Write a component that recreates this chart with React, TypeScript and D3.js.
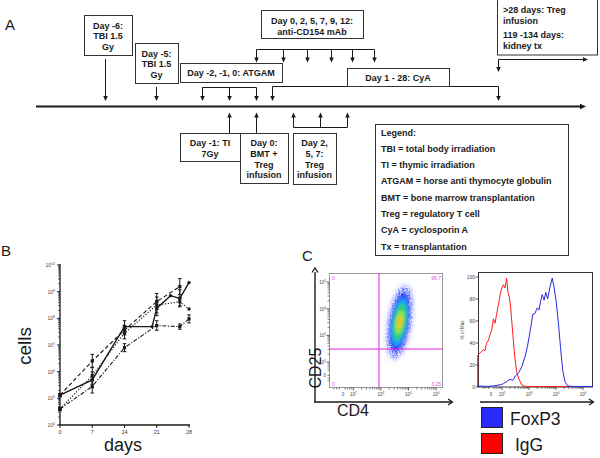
import React from 'react';
import * as d3 from 'd3';

const FONT = '"Liberation Sans", Arial, Helvetica, sans-serif';

// ---------- Panel B data (log10 cells) ----------
const bTicksDays = [0, 7, 14, 21, 28];
const bTicksExp = [4, 5, 6, 7, 8, 9, 10];
const solidDays = [0, 7, 14, 20, 21, 24, 26, 28];
const solidLog = [5.12, 5.69, 7.69, 7.69, 8.38, 8.85, 8.75, 9.34];
const solidErr = [0.06, 0.3, 0.22, 0, 0.28, 0, 0.32, 0];
const dashedDays = [0, 7, 14, 21, 26];
const dashedLog = [5.12, 6.4, 7.56, 8.63, 9.19];
const dashedErr = [0.06, 0.25, 0.18, 0.3, 0.3];
const dottedDays = [0, 7, 14, 21, 26, 28];
const dottedLog = [4.6, 5.85, 7.45, 8.5, 8.62, 8.35];
const dottedErr = [0.06, 0.32, 0.22, 0.3, 0.15, 0];
const dashdotDays = [0, 7, 14, 21, 26, 28];
const dashdotLog = [4.6, 5.45, 6.9, 7.73, 7.69, 7.98];
const dashdotErr = [0.06, 0.25, 0.15, 0.18, 0.1, 0.15];

// ---------- Panel C: histogram (x in decades, y in % of max) ----------
const igGx = [1.1, 1.1, 1.19, 1.31, 1.37, 1.43, 1.49, 1.56, 1.62, 1.68, 1.74, 1.8, 1.86, 1.93, 1.99, 2.05, 2.11, 2.17, 2.22, 2.27, 2.32, 2.4, 2.47, 2.54, 2.63, 2.73, 2.85, 3.5, 4.6];
const igGy = [0, 29, 31, 34, 33, 40, 42, 48, 52, 62, 58, 66, 74, 84, 90, 93, 90, 99, 86, 82, 72, 48, 28, 14, 7, 2, 0.5, 0.4, 0.4];
const foxX = [1.1, 1.43, 1.68, 1.93, 2.05, 2.17, 2.3, 2.4, 2.49, 2.62, 2.74, 2.87, 2.95, 3.05, 3.14, 3.22, 3.31, 3.37, 3.43, 3.49, 3.56, 3.62, 3.69, 3.77, 3.86, 3.92, 4.01, 4.1, 4.17, 4.25, 4.33, 4.43, 4.58, 5.37];
const foxY = [1, 0.5, 1, 2, 3, 5, 7, 6, 10, 13, 19, 29, 38, 52, 66, 67, 72, 70, 78, 84, 79, 86, 80, 90, 99, 92, 77, 55, 35, 15, 5, 1, 0.5, 0.5];
const histYTicks = [0, 20, 40, 60, 80, 100];
const flowTickPos = [2, 3, 4, 5];

// ---------- Panel C: dot plot density contours (decade units) ----------
const cloudColors = ['#3a4cff', '#1f35f0', '#18b0ff', '#2ad27a', '#a6e234', '#f4d018', '#ff9010'];
const cloudRx = [0.42, 0.33, 0.28, 0.23, 0.15, 0.08, 0.035];
const cloudRy = [1.4, 1.1, 0.9, 0.72, 0.45, 0.24, 0.1];
const cloudOpacity = [0.35, 0.85, 0.9, 0.92, 0.92, 0.92, 0.92];
const quadLabels = ['0', '96.7', '0', '3.25'];

// ---------- Panel A text ----------
const legendLines = [
  'Legend:',
  'TBI = total body irradiation',
  'TI = thymic irradiation',
  'ATGAM = horse anti thymocyte globulin',
  'BMT = bone marrow transplantation',
  'Treg = regulatory T cell',
  'CyA = cyclosporin A',
  'Tx = transplantation',
];

const INK = '#1a1a1a';

function Head({ x, y, dir, s = 1 }: { x: number; y: number; dir: string; s?: number }) {
  const w = 2.3 * s, h = 5 * s;
  let pts = '';
  if (dir === 'down') pts = `${x - w},${y - h} ${x + w},${y - h} ${x},${y}`;
  if (dir === 'up') pts = `${x - w},${y + h} ${x + w},${y + h} ${x},${y}`;
  if (dir === 'right') pts = `${x - h},${y - w} ${x - h},${y + w} ${x},${y}`;
  return <polygon points={pts} fill={INK} />;
}

function VArrow({ x, y1, y2 }: { x: number; y1: number; y2: number }) {
  const dir = y2 > y1 ? 'down' : 'up';
  return (
    <g>
      <line x1={x} x2={x} y1={y1} y2={dir === 'down' ? y2 - 4 : y2 + 4} stroke={INK} strokeWidth={1} />
      <Head x={x} y={y2} dir={dir} />
    </g>
  );
}

function Box({ x, y, w, h, lines, y0, dy, align = 'middle', tx }: any) {
  return (
    <g>
      <rect x={x + 0.5} y={y + 0.5} width={w} height={h} fill="#fff" stroke="#333" strokeWidth={1} />
      {lines.map((t: string, i: number) => (
        <text key={i} x={tx ?? x + w / 2} y={y0 + i * dy} textAnchor={align} fontFamily={FONT} fontWeight="bold" fontSize={9} fill={INK}>
          {t}
        </text>
      ))}
    </g>
  );
}

function Pow({ x, y, e, anchor = 'end', size = 5 }: any) {
  return (
    <text x={x} y={y} textAnchor={anchor} fontFamily={FONT} fontSize={size} fill="#444">
      10<tspan dy={-2} fontSize={size * 0.7}>{e}</tspan>
    </text>
  );
}

function PanelA() {
  const brLine = (x1: number, x2: number, y: number) => (
    <line x1={x1} x2={x2} y1={y} y2={y} stroke={INK} strokeWidth={1} />
  );
  return (
    <g>
      <text x={5} y={30} fontFamily={FONT} fontSize={15} fill={INK}>A</text>
      {/* timeline */}
      <line x1={36} x2={580} y1={106.5} y2={106.5} stroke={INK} strokeWidth={2} />
      <Head x={586} y={106.5} dir="right" s={1.2} />

      {/* TBI boxes */}
      <Box x={84} y={15} w={48} h={40} lines={['Day -6:', 'TBI 1.5', 'Gy']} y0={28.5} dy={10.5} />
      <VArrow x={105.5} y1={59} y2={101} />
      <Box x={135} y={43} w={43} h={40} lines={['Day -5:', 'TBI 1.5', 'Gy']} y0={56.5} dy={10.5} />
      <VArrow x={156.5} y1={87} y2={101} />

      {/* anti-CD154 */}
      <Box x={261} y={10} w={102} h={28} lines={['Day 0, 2, 5, 7, 9, 12:', 'anti-CD154 mAb']} y0={23.5} dy={11} />
      {brLine(256.5, 374.5, 49.5)}
      {[256.5, 283.5, 307.5, 331.5, 352.5, 374.5].map((x) => (
        <VArrow key={x} x={x} y1={49.5} y2={62.5} />
      ))}

      {/* ATGAM */}
      <Box x={180} y={63} w={102} h={19} lines={['Day -2, -1, 0: ATGAM']} y0={76.3} dy={0} />
      {brLine(202.5, 256.5, 87.5)}
      {[202.5, 229.5, 256.5].map((x) => (
        <VArrow key={x} x={x} y1={87.5} y2={101} />
      ))}

      {/* CyA */}
      {brLine(272.5, 498.5, 86.5)}
      <VArrow x={272.5} y1={86.5} y2={101} />
      <VArrow x={498.5} y1={86.5} y2={101} />
      <Box x={347} y={68} w={102} h={18} lines={['Day 1 - 28: CyA']} y0={80.8} dy={0} />

      {/* >28 days */}
      <rect x={497.5} y={-1} width={100} height={56} fill="#fff" stroke="#333" strokeWidth={1} />
      {['>28 days: Treg', 'infusion', '119 -134 days:', 'kidney tx'].map((t, i) => (
        <text key={t} x={503} y={[13.3, 23.8, 38.3, 48.8][i]} fontFamily={FONT} fontWeight="bold" fontSize={9} fill={INK}>{t}</text>
      ))}
      {brLine(498.5, 583, 59.5)}
      <Head x={588} y={59.5} dir="right" />
      <VArrow x={498.5} y1={59.5} y2={72} />

      {/* below timeline */}
      <VArrow x={229.5} y1={133} y2={112.5} />
      <VArrow x={256.5} y1={133} y2={112.5} />
      <Box x={180} y={133} w={60} h={28} lines={['Day -1: TI', '7Gy']} y0={146.3} dy={10.5} />
      <Box x={240} y={133} w={48} h={50} lines={['Day 0:', 'BMT +', 'Treg', 'infusion']} y0={146.3} dy={10.7} />
      {brLine(293.5, 347.5, 127.5)}
      {[293.5, 320.5, 347.5].map((x) => (
        <VArrow key={x} x={x} y1={127.5} y2={112.5} />
      ))}
      <Box x={293} y={133} w={43} h={51} lines={['Day 2,', '5, 7:', 'Treg', 'infusion']} y0={146.3} dy={10.7} />

      {/* legend */}
      <rect x={375.5} y={124.5} width={193} height={131} fill="#fff" stroke="#333" strokeWidth={1} />
      {legendLines.map((t, i) => (
        <text key={t} x={381} y={135.5 + i * 16.3} fontFamily={FONT} fontWeight="bold" fontSize={9} fill={INK}>{t}</text>
      ))}
    </g>
  );
}

function PanelB() {
  const x = d3.scaleLinear().domain([0, 28]).range([60, 189]);
  const y = d3.scaleLog().domain([1e4, 1e10]).range([425, 265]);
  const series = [
    { d: solidDays, v: solidLog, e: solidErr, dash: '', w: 1.4 },
    { d: dashedDays, v: dashedLog, e: dashedErr, dash: '4,2.5', w: 1.1 },
    { d: dottedDays, v: dottedLog, e: dottedErr, dash: '1.3,1.6', w: 1.1 },
    { d: dashdotDays, v: dashdotLog, e: dashdotErr, dash: '4,1.6,1.2,1.6', w: 1.1 },
  ];
  const line = d3.line<[number, number]>().x((p) => x(p[0])).y((p) => y(Math.pow(10, p[1])));
  const minor: number[] = [];
  for (let d = 4; d < 10; d++) for (let k = 2; k <= 9; k++) minor.push(k * Math.pow(10, d));
  return (
    <g>
      <text x={1} y={256} fontFamily={FONT} fontSize={15} fill={INK}>B</text>
      {/* axes */}
      <line x1={60} x2={60} y1={264} y2={425.5} stroke={INK} strokeWidth={1.3} />
      <line x1={59.5} x2={190} y1={425} y2={425} stroke={INK} strokeWidth={1.3} />
      {minor.map((m) => (
        <line key={m} x1={58} x2={60} y1={y(m)} y2={y(m)} stroke={INK} strokeWidth={0.7} />
      ))}
      {bTicksExp.map((e) => (
        <g key={e}>
          <line x1={57} x2={60} y1={y(Math.pow(10, e))} y2={y(Math.pow(10, e))} stroke={INK} strokeWidth={1} />
          <Pow x={55} y={y(Math.pow(10, e)) + 2} e={e} />
        </g>
      ))}
      {bTicksDays.map((d) => (
        <g key={d}>
          <line x1={x(d)} x2={x(d)} y1={425} y2={428} stroke={INK} strokeWidth={1} />
          <text x={x(d)} y={433.5} textAnchor="middle" fontFamily={FONT} fontSize={5.5} fill="#333">{d}</text>
        </g>
      ))}
      <text transform="translate(31,346) rotate(-90)" textAnchor="middle" fontFamily={FONT} fontSize={19} fill={INK}>cells</text>
      <text x={123} y={451} textAnchor="middle" fontFamily={FONT} fontSize={18} fill={INK}>days</text>
      {series.map((s, i) => {
        const pts = s.d.map((d, j) => [d, s.v[j]] as [number, number]);
        return (
          <g key={i}>
            <path d={line(pts) || ''} fill="none" stroke={INK} strokeWidth={s.w} strokeDasharray={s.dash} />
            {pts.map((p, j) => {
              const cx = x(p[0]);
              const e = s.e[j];
              const yt = y(Math.pow(10, p[1] + e));
              const yb = y(Math.pow(10, p[1] - e));
              return (
                <g key={j}>
                  {e > 0 && (
                    <g stroke={INK} strokeWidth={1}>
                      <line x1={cx} x2={cx} y1={yt} y2={yb} />
                      <line x1={cx - 1.8} x2={cx + 1.8} y1={yt} y2={yt} />
                      <line x1={cx - 1.8} x2={cx + 1.8} y1={yb} y2={yb} />
                    </g>
                  )}
                  {e > 0 || p[0] === 0 ? (
                    <rect x={cx - 1.6} y={y(Math.pow(10, p[1])) - 1.6} width={3.2} height={3.2} fill={INK} />
                  ) : (
                    <circle cx={cx} cy={y(Math.pow(10, p[1]))} r={1.7} fill={INK} />
                  )}
                </g>
              );
            })}
          </g>
        );
      })}
    </g>
  );
}

function PanelC() {
  // dot plot scales (decade units)
  const dx = d3.scaleLinear().domain([1.12, 5.25]).range([329, 443]);
  const dy = d3.scaleLinear().domain([1.03, 5.34]).range([388, 273]);
  // histogram scales
  const hx = d3.scaleLinear().domain([1.11, 5.37]).range([478, 593]);
  const hy = d3.scaleLinear().domain([0, 100]).range([387, 277]);
  const pathOf = (xs: number[], ys: number[]) =>
    d3.line<number>().x((v) => hx(v)).y((_, i) => hy(ys[i]))(xs) || '';
  const minorDec: number[] = [];
  for (let d = 2; d < 5; d++) for (let k = 2; k <= 9; k++) minorDec.push(d + Math.log10(k));
  const zeroMinor = [1.3, 1.4, 1.5, 1.7, 1.78, 1.86, 1.93];
  const cx = dx(3.68), cy = dy(3.5);
  const kx = dx(1) - dx(0), ky = dy(0) - dy(1);
  const gateX = dx(2.93), gateY = dy(2.49);
  const mag = '#e01ee0';
  return (
    <g>
      <defs>
        <filter id="blur1" x="-50%" y="-50%" width="200%" height="200%">
          <feGaussianBlur stdDeviation="1.4" />
        </filter>
        <filter id="grain" x="-50%" y="-50%" width="200%" height="200%">
          <feTurbulence type="fractalNoise" baseFrequency="0.9" numOctaves="1" seed="4" result="n" />
          <feColorMatrix in="n" type="matrix" values="0 0 0 0 0  0 0 0 0 0  0 0 0 0 0  0 0 0 -6 3.6" result="m" />
          <feGaussianBlur in="SourceGraphic" stdDeviation="2.5" result="b" />
          <feComposite in="b" in2="m" operator="in" />
        </filter>
        <clipPath id="dotclip"><rect x={329} y={273} width={114} height={115} /></clipPath>
      </defs>
      <text x={302} y={261} fontFamily={FONT} fontSize={15} fill={INK}>C</text>

      {/* dot plot */}
      <rect x={329.5} y={273.5} width={113} height={114} fill="#fff" stroke="#999" strokeWidth={1} />
      <g clipPath="url(#dotclip)">
        <g transform={`translate(${cx},${cy}) rotate(9)`}>
          <ellipse rx={cloudRx[0] * kx} ry={cloudRy[0] * ky} fill={cloudColors[0]} filter="url(#grain)" />
          <g filter="url(#blur1)">
            {cloudColors.slice(1).map((c, i) => (
              <ellipse key={c} rx={cloudRx[i + 1] * kx} ry={cloudRy[i + 1] * ky} fill={c} opacity={cloudOpacity[i + 1]} />
            ))}
          </g>
        </g>
      </g>
      <line x1={gateX} x2={gateX} y1={273.5} y2={387.5} stroke={mag} strokeWidth={1} />
      <line x1={329.5} x2={442.5} y1={gateY} y2={gateY} stroke={mag} strokeWidth={1} />
      {quadLabels.map((t, i) => (
        <text key={i} x={i % 2 === 0 ? 332 : 441} y={i < 2 ? 280 : 386} textAnchor={i % 2 === 0 ? 'start' : 'end'} fontFamily={FONT} fontSize={5} fill="#e050e0">{t}</text>
      ))}
      {/* dot plot ticks */}
      {minorDec.concat(zeroMinor).map((m) => (
        <g key={m} stroke="#333" strokeWidth={0.6}>
          <line x1={327.5} x2={329.5} y1={dy(m)} y2={dy(m)} />
          <line x1={dx(m)} x2={dx(m)} y1={387.5} y2={389.5} />
        </g>
      ))}
      {flowTickPos.map((e) => (
        <g key={e}>
          <line x1={326.5} x2={329.5} y1={dy(e)} y2={dy(e)} stroke="#333" strokeWidth={0.8} />
          <line x1={dx(e)} x2={dx(e)} y1={387.5} y2={390.5} stroke="#333" strokeWidth={0.8} />
          <Pow x={326} y={dy(e) + 2} e={e} size={4.5} />
          <Pow x={dx(e)} y={396} e={e} anchor="middle" size={4.5} />
        </g>
      ))}
      <text x={326} y={dy(1.52) + 2} textAnchor="end" fontFamily={FONT} fontSize={4.5} fill="#444">0</text>
      <text x={dx(1.63)} y={396} textAnchor="middle" fontFamily={FONT} fontSize={4.5} fill="#444">0</text>
      {/* dot plot axes arrows */}
      <line x1={315} x2={315} y1={402.5} y2={272} stroke={INK} strokeWidth={1.4} />
      <polyline points="312,272.5 315,268 318,272.5" fill="none" stroke={INK} strokeWidth={1.3} />
      <line x1={314.3} x2={452} y1={402} y2={402} stroke={INK} strokeWidth={1.4} />
      <polyline points="448,399 452.5,402 448,405" fill="none" stroke={INK} strokeWidth={1.3} />
      <text transform="translate(321,368) rotate(-90)" textAnchor="middle" fontFamily={FONT} fontSize={16} fill={INK}>CD25</text>
      <text x={353} y={416} textAnchor="middle" fontFamily={FONT} fontSize={16} fill={INK}>CD4</text>

      {/* histogram */}
      <rect x={478.5} y={272.5} width={114} height={114.5} fill="#fff" stroke="#333" strokeWidth={1} />
      <path d={pathOf(igGx, igGy)} fill="none" stroke="#ff1a1a" strokeWidth={1} />
      <path d={pathOf(foxX, foxY)} fill="none" stroke="#2828e6" strokeWidth={1} />
      {histYTicks.map((t) => (
        <g key={t}>
          <line x1={475.5} x2={478.5} y1={hy(t)} y2={hy(t)} stroke="#333" strokeWidth={0.8} />
          <text x={475} y={hy(t) + 1.8} textAnchor="end" fontFamily={FONT} fontSize={5} fill="#444">{t}</text>
        </g>
      ))}
      <text transform="translate(464,330) rotate(-90)" textAnchor="middle" fontFamily={FONT} fontSize={4.5} fill="#444">% of Max</text>
      {minorDec.concat(zeroMinor).map((m) => (
        <line key={m} x1={hx(m)} x2={hx(m)} y1={387} y2={389} stroke="#333" strokeWidth={0.6} />
      ))}
      {flowTickPos.map((e) => (
        <g key={e}>
          <line x1={hx(e)} x2={hx(e)} y1={387} y2={390} stroke="#333" strokeWidth={0.8} />
          <Pow x={hx(e)} y={396} e={e} anchor="middle" size={4.5} />
        </g>
      ))}
      <text x={hx(1.59)} y={396} textAnchor="middle" fontFamily={FONT} fontSize={4.5} fill="#444">0</text>
      <line x1={480} x2={593} y1={402} y2={402} stroke={INK} strokeWidth={1.4} />
      <polyline points="589,399 593.5,402 589,405" fill="none" stroke={INK} strokeWidth={1.3} />

      {/* legend */}
      <rect x={481.5} y={407.5} width={21} height={20} fill="#2a2aff" stroke="#222" strokeWidth={1} />
      <text x={510} y={425} fontFamily={FONT} fontSize={17.5} fill={INK}>FoxP3</text>
      <rect x={481.5} y={433.5} width={21} height={20} fill="#ff0000" stroke="#222" strokeWidth={1} />
      <text x={515} y={451} fontFamily={FONT} fontSize={17.5} fill={INK}>IgG</text>
    </g>
  );
}

export default function App() {
  return (
    <div style={{ position: 'absolute', left: 0, top: 0 }}>
      <svg width={600} height={458} viewBox="0 0 600 458" style={{ display: 'block', background: '#fff' }}>
        <rect width={600} height={458} fill="#fff" />
        <PanelA />
        <PanelB />
        <PanelC />
      </svg>
    </div>
  );
}
